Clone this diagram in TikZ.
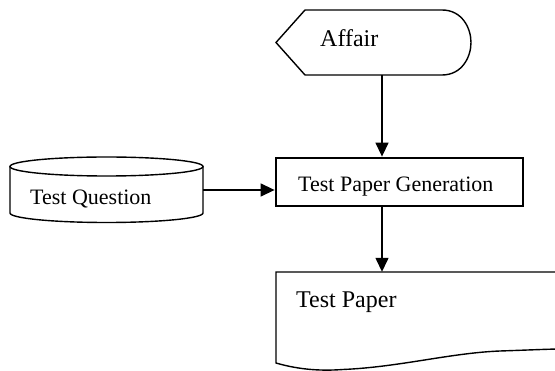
\documentclass[tikz,border=0pt]{standalone}
\usepackage{fontspec}
\setmainfont{Liberation Serif}
\usetikzlibrary{arrows.meta}
\begin{document}
\begin{tikzpicture}[x=1pt,y=-1pt,
  shapeline/.style={line width=1.4pt, black},
  genbox/.style={draw=black, line width=2.8pt, minimum width=247pt, minimum height=48pt, inner sep=0pt},
  ghost/.style={inner sep=0pt},
  arr/.style={line width=1.4pt, black, -{Triangle[length=14pt,width=13pt]}},
  lbl/.style={inner sep=0pt, anchor=base west}]
\useasboundingbox (0,0) rectangle (555,371);
\clip (0,0) rectangle (555,371);
\fill[white] (0,0) rectangle (555,371);

% Affair (display shape)
\draw[shapeline] (276,42.5) -- (305,10) -- (442,10)
  .. controls (462,10) and (471,28) .. (471,42.5)
  .. controls (471,57) and (462,75) .. (442,75) -- (305,75) -- cycle;
\node[ghost, minimum width=195pt, minimum height=65pt] (aff) at (373.5,42.5) {};
\node[lbl, font=\fontsize{24}{28}\selectfont] (afftxt) at (320,47) {Affair};

% Test Question (cylinder)
\draw[shapeline] (10,166.5) -- (10,213) arc[start angle=180, end angle=0, x radius=96.5, y radius=9.5] -- (203,166.5);
\draw[shapeline] (106.5,166.5) ellipse [x radius=96.5, y radius=9.5];
\node[ghost, minimum width=193pt, minimum height=46pt] (tq) at (106.5,190) {};
\node[lbl, font=\fontsize{22}{26}\selectfont] (tqtxt) at (30,205) {Test Question};

% Test Paper Generation
\node[genbox] (gen) at (399.5,182) {};
\node[lbl, font=\fontsize{22}{26}\selectfont] (gentxt) at (298,192) {Test Paper Generation};

% Test Paper (document)
\draw[shapeline] (562,272) -- (276,272) -- (276,363)
  .. controls (300,370) and (322,371) .. (343,369.5)
  .. controls (400,367) and (450,353) .. (500,351)
  .. controls (530,350) and (550,349) .. (562,349);
\node[ghost, minimum width=279pt, minimum height=91pt] (tp) at (415.5,317.5) {};
\node[lbl, font=\fontsize{24}{28}\selectfont] (tptxt) at (296,308) {Test Paper};

% connectors
\coordinate (ax) at (382,0);
\draw[arr] (aff.south -| ax) -- (gen.north -| ax);
\draw[arr] (gen.south -| ax) -- (tp.north -| ax);
\draw[arr] (tq.east) -- (tq.east -| gen.west);
\end{tikzpicture}
\end{document}
